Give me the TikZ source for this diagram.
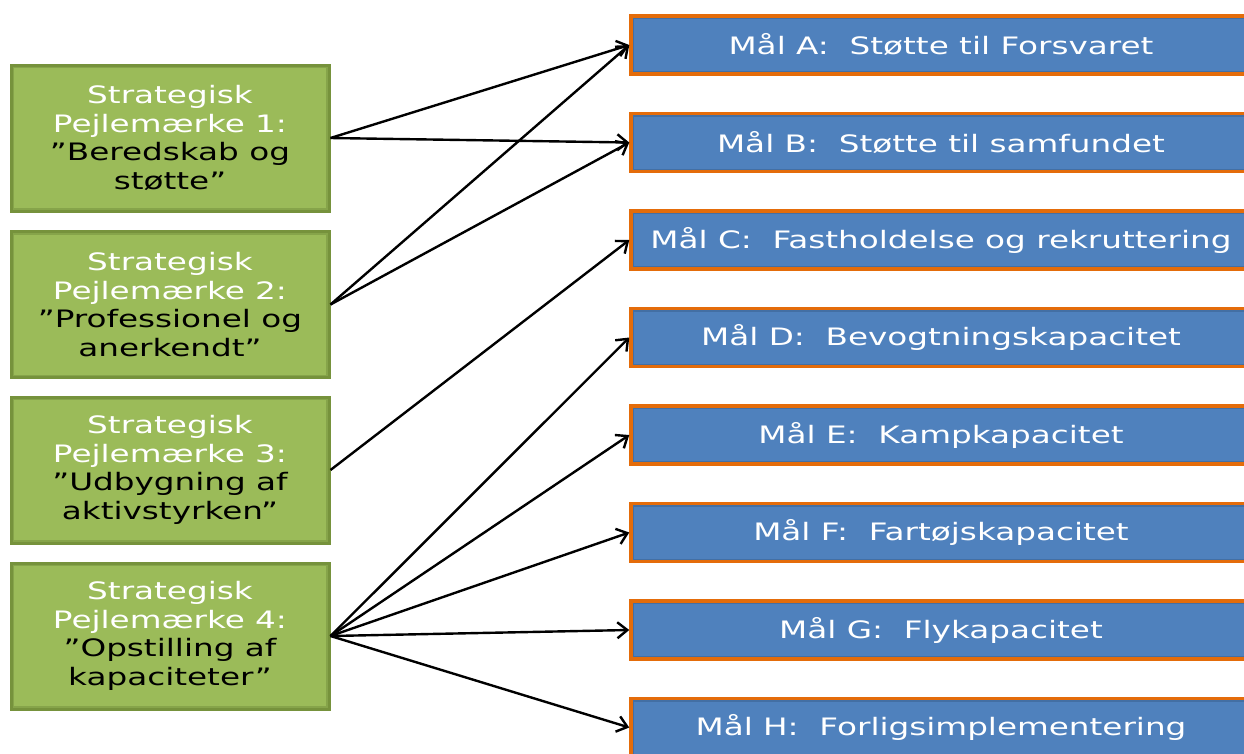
\documentclass[tikz,border=0pt]{standalone}
\usepackage{fontspec}
\setmainfont{DejaVu Sans}[FakeStretch=1.36]
\usetikzlibrary{arrows.meta}
\definecolor{gfill}{HTML}{9BBB59}
\definecolor{gline}{HTML}{76923C}
\definecolor{gshade}{HTML}{5F7A30}
\definecolor{bfill}{HTML}{4F81BD}
\definecolor{bline}{HTML}{E46C0A}
\definecolor{bshade}{HTML}{2E4F78}
\tikzset{
  pejlbox/.style={draw=gline, line width=3pt, fill=gfill, minimum width=318pt, minimum height=146pt, inner sep=0pt, align=center,
    font=\fontsize{24}{28.5}\selectfont,
    path picture={\draw[line width=6pt, gshade, opacity=0.35] (path picture bounding box.north west) rectangle (path picture bounding box.south east);}},
  goalbox/.style={draw=bline, line width=3.5pt, fill=bfill, minimum width=620pt, minimum height=58pt, inner sep=0pt, text=white,
    font=\fontsize{24}{28}\selectfont,
    path picture={\draw[line width=6pt, bshade, opacity=0.35] (path picture bounding box.north west) rectangle (path picture bounding box.south east);}},
  arr/.style={line width=2.4pt, black, -{Straight Barb[length=10pt,width=16pt,line width=2.4pt]}}
}
\begin{document}
\begin{tikzpicture}[x=1pt,y=-1pt]
\clip (0,0) rectangle (1244,753);
\fill[white] (0,0) rectangle (1244,753);
\node[pejlbox] (p1) at (170,138) {\textcolor{white}{Strategisk}\\\textcolor{white}{Pejlemærke 1:}\\”Beredskab og\\støtte”};
\node[pejlbox] (p2) at (170,304.5) {\textcolor{white}{Strategisk}\\\textcolor{white}{Pejlemærke 2:}\\”Professionel og\\anerkendt”};
\node[pejlbox] (p3) at (170,470) {\textcolor{white}{Strategisk}\\\textcolor{white}{Pejlemærke 3:}\\”Udbygning af\\aktivstyrken”};
\node[pejlbox] (p4) at (170,636) {\textcolor{white}{Strategisk}\\\textcolor{white}{Pejlemærke 4:}\\”Opstilling af\\kapaciteter”};
\node[goalbox] (ma) at (941,45) {Mål A:\ \ Støtte til Forsvaret};
\node[goalbox] (mb) at (941,142.5) {Mål B:\ \ Støtte til samfundet};
\node[goalbox] (mc) at (941,240) {Mål C:\ \ Fastholdelse og rekruttering};
\node[goalbox] (md) at (941,337.5) {Mål D:\ \ Bevogtningskapacitet};
\node[goalbox] (me) at (941,435) {Mål E:\ \ Kampkapacitet};
\node[goalbox] (mf) at (941,532.5) {Mål F:\ \ Fartøjskapacitet};
\node[goalbox] (mg) at (941,630) {Mål G:\ \ Flykapacitet};
\node[goalbox] (mh) at (941,727.5) {Mål H:\ \ Forligsimplementering};
\draw[arr] (p1.east) -- (ma.west);
\draw[arr] (p1.east) -- (mb.west);
\draw[arr] (p2.east) -- (ma.west);
\draw[arr] (p2.east) -- (mb.west);
\draw[arr] (p3.east) -- (mc.west);
\draw[arr] (p4.east) -- (md.west);
\draw[arr] (p4.east) -- (me.west);
\draw[arr] (p4.east) -- (mf.west);
\draw[arr] (p4.east) -- (mg.west);
\draw[arr] (p4.east) -- (mh.west);
\end{tikzpicture}
\end{document}
